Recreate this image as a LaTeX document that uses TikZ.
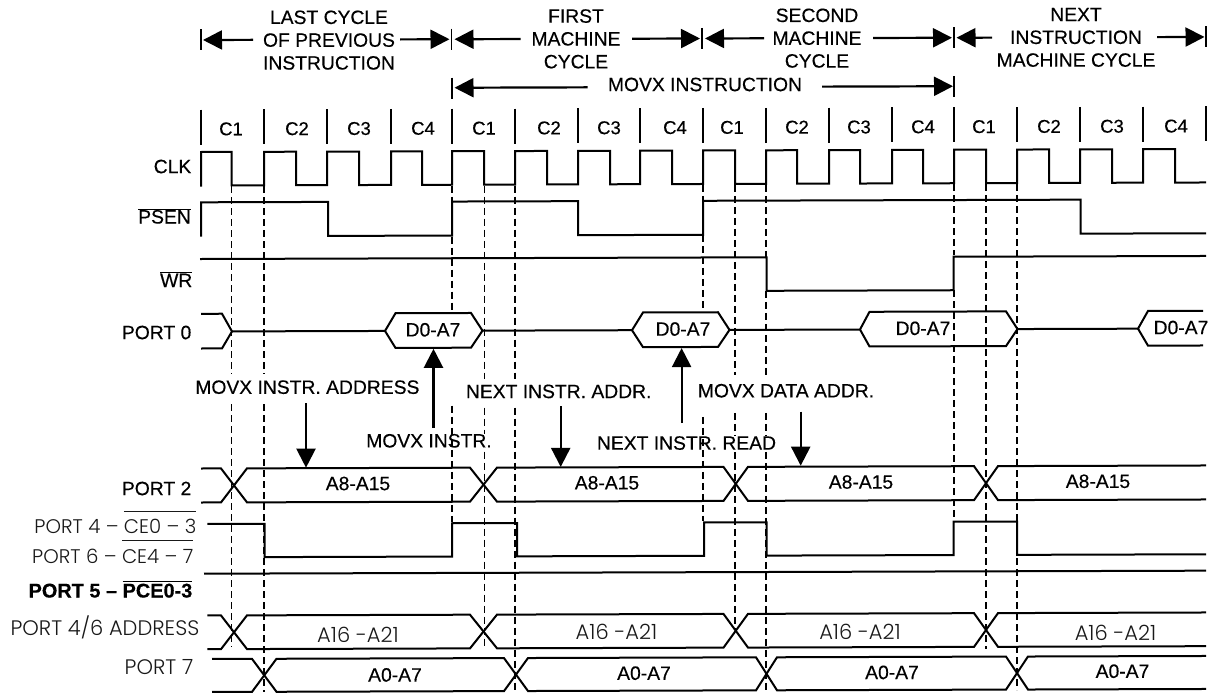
\documentclass[tikz,border=0pt]{standalone}
\usepackage{fontspec}
\setmainfont{Liberation Sans}[FakeBold=0.35]
\newfontfamily\lightf{Poppins Light}
\usetikzlibrary{arrows.meta}
\newcommand{\ovl}[2]{\leavevmode\vbox{\hrule height 1pt\kern#1\hbox{#2}}}
\tikzset{
 sig/.style={line width=2pt,line join=miter,black},
 dashline/.style={line width=1.6pt,dash pattern=on 7pt off 4pt,black},
 tickline/.style={line width=1.6pt,black},
 txt/.style={inner sep=0pt,font=\fontsize{19.3}{22.8}\selectfont,align=center,text=black},
 ctxt/.style={inner sep=0pt,font=\fontsize{18.5}{22}\selectfont,text=black},
 rowlbl/.style={txt,anchor=east},
 light/.style={inner sep=0pt,font=\lightf\fontsize{21}{25}\selectfont,text=black!90},
 lightce/.style={inner sep=0pt,font=\lightf\fontsize{19.7}{24}\selectfont,text=black!90,anchor=base east},
 arr/.style={line width=2.2pt,black,-{Triangle[length=19pt,width=19pt]}},
}
\begin{document}
\begin{tikzpicture}[x=1pt,y=-1pt]
\useasboundingbox (0,0) rectangle (1215,694);
\begin{scope}[yslant=0.003,yshift=-2.1pt]
% header
\foreach \x in {201,451.5,702,954,1206}{\draw[tickline] (\x,28)--(\x,49);}
\foreach \x in {452,954}{\draw[tickline] (\x,77)--(\x,98);}
\node[txt] (h1) at (329,39) {LAST CYCLE\\OF PREVIOUS\\INSTRUCTION};
\node[txt] (h2) at (576,38.5) {FIRST\\MACHINE\\CYCLE};
\node[txt] (h3) at (817,38.5) {SECOND\\MACHINE\\CYCLE};
\node[txt] (h4) at (1076,38.5) {NEXT\\INSTRUCTION\\MACHINE CYCLE};
\node[txt] (hm) at (705,84.5) {MOVX INSTRUCTION};
\coordinate (a1) at (203,38.5); \coordinate (a1s) at (253,38.5);
\coordinate (a2) at (449.5,38.5); \coordinate (a2s) at (400,38.5);
\coordinate (b1) at (454.5,38.5); \coordinate (b1s) at (520.5,38.5);
\coordinate (b2) at (700,38.5); \coordinate (b2s) at (632,38.5);
\coordinate (c1) at (705,38.5); \coordinate (c1s) at (764,38.5);
\coordinate (c2) at (952,38.5); \coordinate (c2s) at (873,38.5);
\coordinate (d1) at (956.5,38.5); \coordinate (d1s) at (992,38.5);
\coordinate (d2) at (1204.5,38.5); \coordinate (d2s) at (1157,38.5);
\coordinate (m1) at (454.5,87); \coordinate (m1s) at (587.5,87);
\coordinate (m2) at (953,87); \coordinate (m2s) at (822,87);
\foreach \s/\e in {a1s/a1,a2s/a2,b1s/b1,b2s/b2,c1s/c1,c2s/c2,d1s/d1,d2s/d2,m1s/m1,m2s/m2}{\draw[arr] (\s)--(\e);}
% cycle ticks and labels
\foreach \x in {201,264,327,391,452,515,578,640,703,766,829,892,954,1017,1080,1143,1206}{\draw[tickline] (\x,108)--(\x,143);}
\foreach \x/\l/\n in {231/C1/a,297/C2/b,359/C3/c,423/C4/d,484/C1/e,549/C2/f,609/C3/g,675/C4/h,732/C1/i,797/C2/j,859/C3/k,923/C4/l,984/C1/m,1049/C2/n,1112/C3/o,1176/C4/p}{\node[ctxt] (cy\n) at (\x,127.5) {\l};}
% dashed guides
\foreach \x/\a/\b in {
 231.5/185/373, 231.5/403/646,
 264/185/373, 264/403/691,
 452/185/201, 452/236/310, 452/405/521,
 484.5/185/378, 484.5/407/433, 484.5/451/646,
 515/185/378, 515/407/691,
 703/185/200, 703/235/308, 703/417/521,
 735/185/375, 735/413/436, 735/452/630,
 766/185/258, 766/291/375, 766/413/436, 766/452/691,
 954/185/256, 954/291/520,
 986/185/650,
 1017/185/691}{\draw[dashline] (\x,\a)--(\x,\b);}
% CLK
\draw[sig] (201,185)--(201,150.5)
 \foreach \r/\f in {231.5/264,296/327,359/391,422/452,484/515,547/578,610/640,672/703,735/766,797/829,860/892,923/954,986/1017,1049/1080,1112/1143}{
 -|(\r,184)-|(\f,150.5)} -|(1175,184)--(1206,184);
% PSEN
\draw[sig] (201,235)--(201,200.8)-|(328,234.8)-|(452,200.8)-|(578,234.8)-|(703,200.8)-|(1080.5,234.8)--(1206,234.8);
% WR
\draw[sig] (200,257.5)-|(766.5,291)-|(953.5,257.5)--(1206,257.5);
% PORT 0
\draw[sig] (201,312.3)--(222,312.3)--(232,330)--(222,347)--(201,347);
\draw[sig] (232,330)--(385,330)--(395.5,312.3)--(471,312.3)--(482.5,330)--(471,347)--(395.5,347)--(385,330);
\draw[sig] (482.5,330)--(632,330)--(643,312.3)--(718,312.3)--(729.5,330)--(718,347)--(643,347)--(632,330);
\draw[sig] (729.5,330)--(860,330)--(869.5,312.3)--(1006,312.3)--(1017.5,330)--(1006,347)--(869.5,347)--(860,330);
\draw[sig] (1017.5,330)--(1138,330)--(1148,312.3)--(1203,312.3);
\draw[sig] (1138,330)--(1148,347)--(1203,347);
% bus rows
\foreach \t/\b/\s in {467/501/201, 614/647.7/207.4}{
 \draw[sig] (\s,\t)--(221,\t)--(247,\b)--(470,\b)--(497,\t)--(723.5,\t)--(748,\b)--(974,\b)--(998,\t)--(1206,\t);
 \draw[sig] (\s,\b)--(221,\b)--(247,\t)--(470,\t)--(497,\b)--(723.5,\b)--(748,\t)--(974,\t)--(998,\b)--(1206,\b);
}
% PORT 7
\foreach \t/\b in {657.5/690.5}{
 \draw[sig] (212,\t)--(252,\t)--(276.5,\b)--(504,\b)--(528,\t)--(756,\t)--(777,\b)--(1006,\b)--(1028,\t)--(1206,\t);
 \draw[sig] (212,\b)--(252,\b)--(276.5,\t)--(504,\t)--(528,\b)--(756,\b)--(777,\t)--(1006,\t)--(1028,\b)--(1206,\b);
}
% CE
\draw[sig] (207.4,522.5)-|(264.5,555.8)-|(452,522.5)-|(517,555.8)-|(704,522.5)-|(766.5,555.8)-|(953.5,522.5)-|(1017,555.8)--(1206,555.8);
% PORT 5
\draw[sig] (204,572.2)--(1206,572.2);
% data text
\foreach \x/\n in {433/a,683/b,923/c,1181/d}{\node[txt] (d\n) at (\x,329) {D0-A7};}
\foreach \x/\n in {358/a,607/b,861/c,1098/d}{\node[txt] (ah\n) at (\x,482.5) {A8-A15};}
\foreach \x/\y in {358/634,616.5/632,860/632,1115.5/634}{\node[light] at (\x,\y) {A16 -A21};}
\foreach \x/\y in {395/674,644/673,892/673,1122.5/672.5}{\node[txt] at (\x,\y) {A0-A7};}
% row labels
\node[rowlbl] (lclk) at (191.5,165) {CLK};
\node[rowlbl,anchor=base east] (lpsen) at (191,222) {\ovl{0pt}{PSEN}};
\node[rowlbl,anchor=base east] (lwr) at (192.5,285.5) {\ovl{1pt}{WR}};
\node[rowlbl] (lp0) at (191.5,331) {PORT 0};
\node[rowlbl] (lp2) at (191.5,487) {PORT 2};
\node[lightce] (lp4) at (196.5,532.4) {PORT 4 – \ovl{8pt}{CE0 – 3}};
\node[lightce] (lp6) at (193.5,561.7) {PORT 6 – \ovl{8pt}{CE4 – 7}};
\node[rowlbl,anchor=base east,font=\bfseries\fontsize{19.9}{22}\selectfont] (lp5) at (192.5,596) {PORT 5 – \ovl{1.5pt}{PCE0-3}};
\node[light,anchor=east] (lp46) at (199.5,625.5) {PORT 4/6 ADDRESS};
\node[light,anchor=east] (lp7) at (193.5,666) {PORT 7};
% annotations
\node[txt] (n1) at (307.4,386) {MOVX INSTR. ADDRESS};
\node[txt] (n2) at (429,440) {MOVX INSTR.};
\node[txt] (n3) at (558.7,391) {NEXT INSTR. ADDR.};
\node[txt] (n4) at (686.5,443) {NEXT INSTR. READ};
\node[txt] (n5) at (786,391) {MOVX DATA ADDR.};
\coordinate (t1s) at (306,402); \coordinate (t1) at (306,466.5);
\coordinate (t2s) at (433.5,427); \coordinate (t2) at (433.5,348);
\coordinate (t3s) at (560.7,406); \coordinate (t3) at (560.7,466.5);
\coordinate (t4s) at (681.6,423); \coordinate (t4) at (681.6,348);
\coordinate (t5s) at (800.7,412); \coordinate (t5) at (800.7,466);
\foreach \s/\e in {t1s/t1,t2s/t2,t3s/t3,t4s/t4,t5s/t5}{\draw[arr] (\s)--(\e);}
\end{scope}
\end{tikzpicture}
\end{document}
